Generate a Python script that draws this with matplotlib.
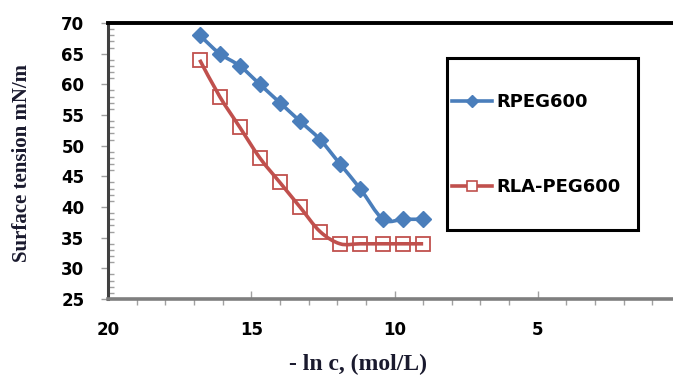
import matplotlib
matplotlib.use("Agg")
from matplotlib import pyplot as plt
from matplotlib.path import Path
from matplotlib.patches import PathPatch, Rectangle
from matplotlib.lines import Line2D
from matplotlib.ticker import MultipleLocator

# -ln c values
x_rpeg = [16.8, 16.1, 15.4, 14.7, 14.0, 13.3, 12.6, 11.9, 11.2, 10.4, 9.7, 9.0]
y_rpeg = [68, 65, 63, 60, 57, 54, 51, 47, 43, 38, 38, 38]

x_rla = [16.8, 16.1, 15.4, 14.7, 14.0, 13.3, 12.6, 11.9, 11.2, 10.4, 9.7, 9.0]
y_rla = [64, 58, 53, 48, 44, 40, 36, 34, 34, 34, 34, 34]

labels = ["RPEG600", "RLA-PEG600"]
blue = "#4A7EBB"
red = "#C0504D"


def smooth_path(xs, ys, t=1.0 / 6):
    # excel-like smoothed line: catmull-rom turned into bezier pieces
    verts = [(xs[0], ys[0])]
    codes = [Path.MOVETO]
    n = len(xs)
    for i in range(n - 1):
        x0, y0 = (xs[i - 1], ys[i - 1]) if i > 0 else (xs[i], ys[i])
        x1, y1 = xs[i], ys[i]
        x2, y2 = xs[i + 1], ys[i + 1]
        x3, y3 = (xs[i + 2], ys[i + 2]) if i + 2 < n else (x2, y2)
        c1 = (x1 + (x2 - x0) * t, y1 + (y2 - y0) * t)
        c2 = (x2 - (x3 - x1) * t, y2 - (y3 - y1) * t)
        verts += [c1, c2, (x2, y2)]
        codes += [Path.CURVE4] * 3
    return Path(verts, codes)


fig = plt.figure(figsize=(6.73, 3.79), dpi=100)
ax = fig.add_axes([108 / 673, 80 / 379, 573 / 673, 276 / 379])

ax.add_patch(PathPatch(smooth_path(x_rpeg, y_rpeg), fill=False, edgecolor=blue, lw=2.6, zorder=2))
ax.add_patch(PathPatch(smooth_path(x_rla, y_rla), fill=False, edgecolor=red, lw=2.6, zorder=2))
ax.plot(x_rpeg, y_rpeg, linestyle="none", marker="D", markersize=8, color=blue, zorder=3)
ax.plot(x_rla, y_rla, linestyle="none", marker="s", markersize=9.5, markerfacecolor="none",
        markeredgecolor=red, markeredgewidth=1.3, zorder=3)

ax.set_xlim(20, 0)
ax.set_ylim(25, 70)
ax.xaxis.set_major_locator(MultipleLocator(5))
ax.xaxis.set_minor_locator(MultipleLocator(1))
ax.yaxis.set_major_locator(MultipleLocator(5))
ax.yaxis.set_minor_locator(MultipleLocator(1))
ax.set_xticks([20, 15, 10, 5])

ax.tick_params(axis="x", which="major", direction="in", length=6, width=1, color="#a0a0a0", pad=16)
ax.tick_params(axis="x", which="minor", direction="out", length=4, width=1, color="#a0a0a0")
ax.tick_params(axis="y", which="major", direction="out", length=5, width=1, color="#a0a0a0", pad=12)
ax.tick_params(axis="y", which="minor", direction="in", length=4, width=1, color="#a0a0a0")
for lab in ax.get_xticklabels() + ax.get_yticklabels():
    lab.set_fontfamily("DejaVu Sans")
    lab.set_fontweight("bold")
    lab.set_fontsize(12)

ax.spines["top"].set_color("black")
ax.spines["top"].set_linewidth(2.8)
ax.spines["left"].set_color("#404040")
ax.spines["left"].set_linewidth(2.2)
ax.spines["bottom"].set_color("#7f7f7f")
ax.spines["bottom"].set_linewidth(2.6)
ax.spines["right"].set_visible(False)

ax.set_ylabel("Surface tension mN/m", family="Liberation Serif", fontweight="bold", fontsize=15,
              color="#1a1a2e")
ax.yaxis.set_label_coords(-0.133, 0.493)
ax.set_xlabel("- ln c, (mol/L)", family="Liberation Serif", fontweight="bold", fontsize=17,
              color="#1a1a2e")
ax.xaxis.set_label_coords(0.437, -0.2)

# legend box
ax.add_patch(Rectangle((0.592, 0.25), 0.333, 0.623, transform=ax.transAxes, fill=False,
                       edgecolor="black", lw=2.2, zorder=4, clip_on=False))
handles = [
    Line2D([], [], color=blue, lw=2.6, marker="D", markersize=6),
    Line2D([], [], color=red, lw=2.6, marker="s", markersize=7, markerfacecolor="white",
           markeredgecolor=red, markeredgewidth=1.2),
]
ax.legend(handles, labels, loc="upper left", bbox_to_anchor=(0.6, 0.745), frameon=False,
          borderpad=0, borderaxespad=0, handlelength=2.2, handletextpad=0.25, labelspacing=3.7,
          prop={"family": "DejaVu Sans", "weight": "bold", "size": 13})

plt.savefig("out.png", dpi=100)
